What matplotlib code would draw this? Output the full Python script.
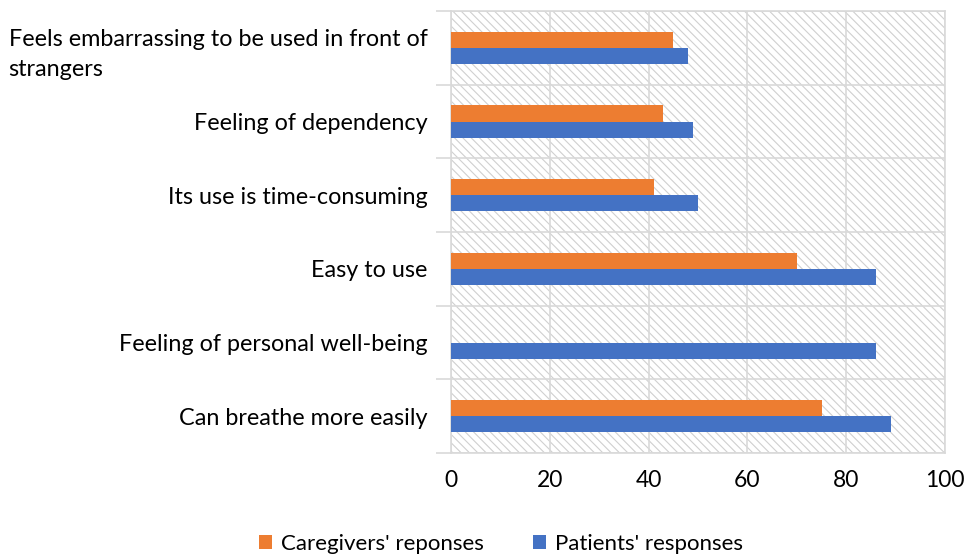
import matplotlib
matplotlib.use("Agg")
import matplotlib.pyplot as plt
import numpy as np
from matplotlib.patches import Rectangle

categories = ["Can breathe more easily", "Feeling of personal well-being", "Easy to use",
              "Its use is time-consuming", "Feeling of dependency",
              "Feels embarrassing to be used in front of\nstrangers"]
patients = [89, 86, 86, 50, 49, 48]
caregivers = [75, 0, 70, 41, 43, 45]
xticks = [0, 20, 40, 60, 80, 100]

plt.rcParams['font.family'] = ['Lato', 'DejaVu Sans']
plt.rcParams['hatch.color'] = '#d0d0d0'
plt.rcParams['hatch.linewidth'] = 0.8

fig = plt.figure(figsize=(9.67, 5.56), dpi=100)
ax = fig.add_axes([451/967, 1-453/556, (945-451)/967, (453-11)/556])

bg = Rectangle((0, 0), 1, 1, transform=ax.transAxes, facecolor='white',
               edgecolor='#d0d0d0', hatch='\\\\\\\\', linewidth=0, zorder=0)
ax.add_patch(bg)

y = np.arange(len(categories))
h = 0.22
ax.barh(y + h/2, caregivers, height=h, color='#ED7D31', label="Caregivers' reponses", zorder=3)
ax.barh(y - h/2, patients, height=h, color='#4472C4', label="Patients' responses", zorder=3)

ax.set_xlim(0, 100)
ax.set_ylim(-0.5, len(categories) - 0.5)
ax.set_xticks(xticks)
ax.set_yticks(y)
ax.set_yticklabels(categories, fontsize=16.8, multialignment='left', linespacing=1.55)
ax.set_yticks(np.arange(-0.5, len(categories), 1), minor=True)
ax.tick_params(axis='y', which='major', length=0, pad=17)
ax.tick_params(axis='y', which='minor', length=11, color='#d9d9d9', width=1.2)
ax.tick_params(axis='x', length=0, labelsize=16.5, pad=12)
ax.grid(axis='x', color='#d9d9d9', linewidth=1.2, zorder=1)
ax.grid(axis='y', which='minor', color='#d9d9d9', linewidth=1.2, zorder=1)
for s in ax.spines.values():
    s.set_color('#d9d9d9')
    s.set_linewidth(1.2)
ax.set_axisbelow(True)

handles, labels = ax.get_legend_handles_labels()
fig.legend(handles, labels, loc='lower center', bbox_to_anchor=(0.518, -0.032), ncol=2,
           frameon=False, fontsize=16, handlelength=0.6, handleheight=0.6,
           columnspacing=2.2, handletextpad=0.4)

fig.savefig('out.png', dpi=100)
